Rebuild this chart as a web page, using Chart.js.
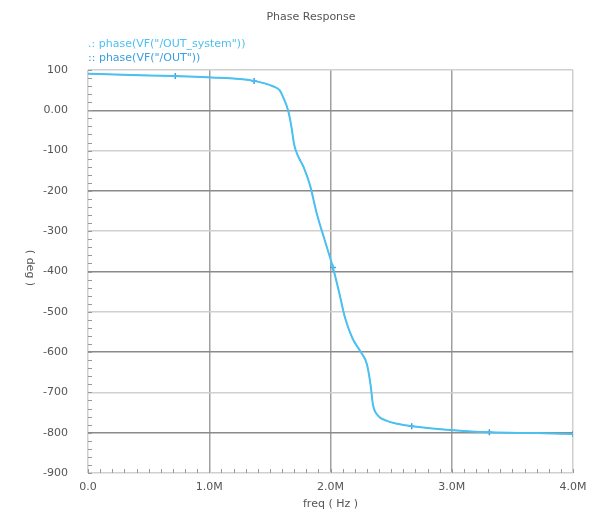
<!DOCTYPE html>
<html>
<head>
<meta charset="utf-8">
<script src="https://cdn.jsdelivr.net/npm/chart.js@4/dist/chart.umd.min.js"></script>
<style>
  html, body { margin: 0; padding: 0; background: #fff; }
  #phaseChart { display: block; }
</style>
</head>
<body>
<canvas id="phaseChart" width="599" height="511"></canvas>
<script>
// frequency in MHz, phase in degrees
const freqMHz = [0, 0.29, 0.72, 0.98, 1.37, 1.53, 1.58, 1.61, 1.65, 1.68, 1.70, 1.73, 1.78, 1.83, 1.89, 1.95, 2.02, 2.07, 2.12, 2.18, 2.25, 2.30, 2.33, 2.35, 2.39, 2.46, 2.55, 2.67, 2.98, 3.31, 3.70, 4.0];
const phaseOutSystem = [91, 88, 85, 82, 73, 59, 50, 32, 0, -45, -85, -112, -142, -185, -260, -320, -390, -450, -515, -565, -600, -630, -680, -730, -757, -770, -778, -784, -793, -799, -801, -803];
const phaseOut = [91, 88, 85, 82, 73, 59, 50, 32, 0, -45, -85, -112, -142, -185, -260, -320, -390, -450, -515, -565, -600, -630, -680, -730, -757, -770, -778, -784, -793, -799, -801, -803];
const markerFreqs = [0.72, 1.37, 2.02, 2.67, 3.31, 4.0];
const seriesNames = ['phase(VF("/OUT_system"))', 'phase(VF("/OUT"))'];
const seriesSymbols = ['.:', '::'];
const seriesColors = ['#4cc0f0', '#3a9fe2'];
const yTicks = [100, 0, -100, -200, -300, -400, -500, -600, -700, -800, -900];
const xTicks = [0, 1, 2, 3, 4];

const FONT = '"DejaVu Sans", sans-serif';
const TEXT = '#555';

function toPoints(xs, ys) {
  return xs.map((x, i) => ({ x: x, y: ys[i] }));
}

// title, colored legend text, rotated y title and the minor ticks along the axes
const decorPlugin = {
  id: 'decor',
  afterDraw(chart) {
    const ctx = chart.ctx;
    const area = chart.chartArea;
    const xs = chart.scales.x;
    const ys = chart.scales.y;
    ctx.save();

    ctx.font = '11px ' + FONT;
    ctx.fillStyle = TEXT;
    ctx.textAlign = 'center';
    ctx.textBaseline = 'middle';
    ctx.fillText('Phase Response', 311, 17);

    ctx.save();
    ctx.translate(30, 268);
    ctx.rotate(Math.PI / 2);
    ctx.fillText('( deg )', 0, 0);
    ctx.restore();

    ctx.textAlign = 'left';
    seriesNames.forEach((name, i) => {
      ctx.fillStyle = seriesColors[i];
      ctx.fillText(seriesSymbols[i] + ' ' + name, 88, 44 + i * 14);
    });

    ctx.strokeStyle = '#999';
    ctx.lineWidth = 1;
    ctx.beginPath();
    for (let v = -900; v <= 100; v += 20) {
      const py = Math.round(ys.getPixelForValue(v)) + 0.5;
      ctx.moveTo(area.left, py);
      ctx.lineTo(area.left + 4, py);
    }
    for (let f = 0; f <= 4.001; f += 0.1) {
      const px = Math.round(xs.getPixelForValue(f)) + 0.5;
      ctx.moveTo(px, area.bottom);
      ctx.lineTo(px, area.bottom - 4);
    }
    ctx.stroke();
    ctx.restore();
  }
};

new Chart(document.getElementById('phaseChart'), {
  type: 'line',
  data: {
    datasets: [
      {
        label: seriesNames[0],
        data: toPoints(freqMHz, phaseOutSystem),
        borderColor: seriesColors[0],
        borderWidth: 2,
        pointRadius: 0,
        cubicInterpolationMode: 'monotone'
      },
      {
        label: seriesNames[1],
        data: toPoints(freqMHz, phaseOut),
        borderColor: seriesColors[1],
        borderWidth: 1,
        pointStyle: 'cross',
        pointBorderColor: seriesColors[1],
        pointBorderWidth: 1.5,
        pointRadius: ctx => markerFreqs.includes(freqMHz[ctx.dataIndex]) ? 3 : 0,
        cubicInterpolationMode: 'monotone'
      }
    ]
  },
  options: {
    responsive: false,
    animation: false,
    layout: { padding: { top: 70, right: 26, left: 0, bottom: 0 } },
    plugins: {
      legend: { display: false },
      title: { display: false },
      tooltip: { enabled: false }
    },
    scales: {
      x: {
        type: 'linear',
        min: 0,
        max: 4,
        afterBuildTicks: scale => { scale.ticks = xTicks.map(v => ({ value: v })); },
        afterFit: scale => { scale.height = 38; },
        ticks: {
          color: TEXT,
          font: { family: FONT, size: 11 },
          padding: 8,
          maxRotation: 0,
          callback: v => v === 0 ? '0.0' : v.toFixed(1) + 'M'
        },
        grid: {
          drawTicks: false,
          color: ctx => (ctx.tick.value === 0 || ctx.tick.value === 4) ? '#d0d0d0' : '#a0a0a0',
          lineWidth: 1.5
        },
        border: { display: false },
        title: {
          display: true,
          text: 'freq ( Hz )',
          color: TEXT,
          font: { family: FONT, size: 11 },
          padding: { top: 0, bottom: 0 }
        }
      },
      y: {
        min: -900,
        max: 100,
        afterBuildTicks: scale => { scale.ticks = yTicks.map(v => ({ value: v })); },
        afterFit: scale => { scale.width = 88; },
        ticks: {
          color: TEXT,
          font: { family: FONT, size: 11 },
          padding: 20,
          callback: v => v === 0 ? '0.00' : String(v)
        },
        grid: {
          drawTicks: false,
          color: ctx => {
            const v = ctx.tick.value;
            if (v === 100 || v === -900) return '#d0d0d0';
            return v % 200 === 0 ? '#8a8a8a' : '#d0d0d0';
          },
          lineWidth: 1.5
        },
        border: { display: false }
      }
    }
  },
  plugins: [decorPlugin]
});
</script>
</body>
</html>
